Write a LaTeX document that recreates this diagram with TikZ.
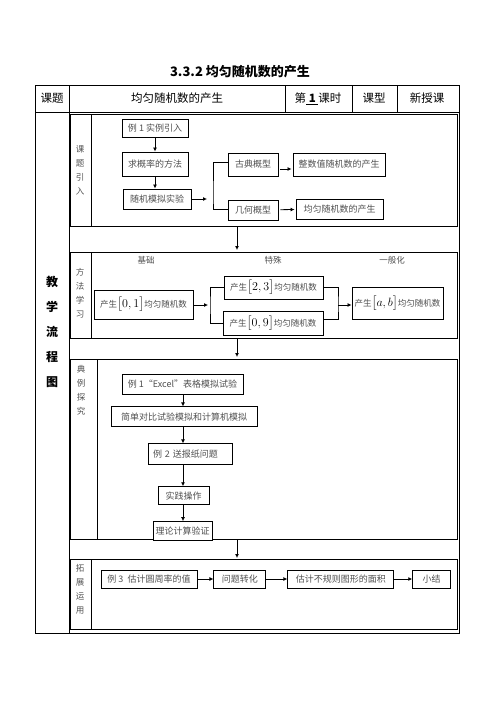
\documentclass[tikz,border=0pt]{standalone}
\usepackage{amsmath}
\usepackage{fontspec}
\usepackage{tikz}
\usetikzlibrary{positioning, arrows.meta, calc}
\newfontfamily\cjk{Noto Sans CJK SC}
\definecolor{txtgray}{RGB}{80,80,80}
\newcommand\itv[1]{\textcolor{black}{\fontsize{12}{13}\selectfont$\bigl[#1\bigr]$}}
\tikzset{
  cell/.style={inner sep=0pt, font=\cjk\fontsize{11.5}{13}\selectfont},
  sec/.style={rectangle, draw, line width=1pt, anchor=north west, inner sep=0pt},
  secname/.style={inner sep=0pt, align=center, text=txtgray, font=\cjk\fontsize{8.5}{14}\selectfont},
  box/.style={rectangle, draw, line width=0.9pt, fill=white, inner sep=1pt, align=center,
    text=txtgray, font=\cjk\fontsize{9}{10}\selectfont},
  ivbox/.style={box, font=\cjk\fontsize{8.5}{10}\selectfont},
  tag/.style={inner sep=0pt, text=txtgray, font=\cjk\fontsize{8.5}{10}\selectfont},
  flow/.style={-{Latex[length=4pt, width=4pt]}, line width=0.8pt},
  link/.style={line width=0.8pt},
  rule/.style={line width=0.6pt},
}
\begin{document}
\begin{tikzpicture}[x=1pt, y=-1pt]
  \useasboundingbox (0,0) rectangle (496,702);
  \node[cell, font=\cjk\bfseries\fontsize{13}{15}\selectfont] (title) at (240,72) {3.3.2 均匀随机数的产生};
  \draw[rule] (35,85) rectangle (459,633);
  \draw[rule] (35,112) -- (459,112);
  \foreach \x in {285,352,397} \draw[rule] (\x,85) -- (\x,112);
  \draw[line width=0.8pt] (69,85) -- (69,633);
  \node[cell] (h1) at (52,98.5) {课题};
  \node[cell] (h2) at (177,98.5) {均匀随机数的产生};
  \node[cell] (h3) at (318,98.5) {第\underline{\ {\bfseries 1}\ }课时};
  \node[cell] (h4) at (374,98.5) {课型};
  \node[cell] (h5) at (427,98.5) {新授课};
  \node[cell, align=center, font=\cjk\bfseries\fontsize{12}{25}\selectfont] (flowname) at (52,332) {教\\学\\流\\程\\图};
  \node[sec, minimum width=387, minimum height=112] (sec1) at (70,114) {};
  \node[sec, minimum width=387, minimum height=86] (sec2) at (70,252) {};
  \node[sec, minimum width=387, minimum height=180] (sec3) at (70,359) {};
  \node[sec, minimum width=387, minimum height=70] (sec4) at (70,559) {};
  \coordinate (dv) at (91,0); \coordinate (dw) at (97,0); \coordinate (m) at (237,0);
  \draw[link] (sec1.north -| dv) -- (sec1.south -| dv); \draw[link] (sec2.north -| dv) -- (sec2.south -| dv);
  \draw[link] (sec3.north -| dw) -- (sec3.south -| dw); \draw[link] (sec4.north -| dv) -- (sec4.south -| dv);
  \node[secname] (n1) at (80,170) {课\\题\\引\\入};
  \node[secname] (n2) at (80,293) {方\\法\\学\\习};
  \node[secname] (n3) at (81,390) {典\\例\\探\\究};
  \node[secname] (n4) at (80,589) {拓\\展\\运\\用};
  \draw[flow, shorten >=2pt] (sec1.south -| m) -- (sec2.north -| m);
  \draw[flow, shorten >=2pt] (sec2.south -| m) -- (sec3.north -| m);
  \draw[flow, shorten >=1pt] (sec3.south -| m) -- (sec4.north -| m);
  \node[box, minimum width=66, minimum height=18] (ex1) at (155,128) {例 1 实例引入};
  \node[box, minimum width=66, minimum height=24] (prob) at (155,164) {求概率的方法};
  \node[box, minimum width=68, minimum height=20] (sim) at (157,199) {随机模拟实验};
  \node[box, minimum width=50, minimum height=23] (classic) at (253,164.5) {古典概型};
  \node[box, minimum width=50, minimum height=20] (geo) at (253,210) {几何概型};
  \node[box, minimum width=92, minimum height=23] (intrand) at (339,164.5) {整数值随机数的产生};
  \node[box, minimum width=87, minimum height=20] (unirand) at (339.5,209) {均匀随机数的产生};
  \coordinate (fork1) at (207,199); \coordinate (bar1) at (213,199);
  \draw[flow] (ex1) -- (prob); \draw[flow] (prob.south) -- (prob.south |- sim.north);
  \draw[flow] (sim) -- (fork1);
  \draw[link] ([yshift=2.5pt]classic.west) -| (bar1) |- ([yshift=1pt]geo.west);
  \draw[flow, shorten <=2pt, shorten >=1pt] ([yshift=-4.5pt]classic.east) -- ([yshift=-4.5pt]intrand.west);
  \draw[flow, shorten <=2pt, shorten >=1pt] (geo) -- (unirand);
  \node[tag] (t1) at (146,260) {基础};
  \node[tag] (t2) at (273,260) {特殊};
  \node[tag] (t3) at (392,260) {一般化};
  \node[ivbox, minimum width=99, minimum height=29] (u01) at (143.5,304.5) {产生\itv{0,1}均匀随机数};
  \node[ivbox, minimum width=99, minimum height=23] (u23) at (273.5,287.5) {产生\itv{2,3}均匀随机数};
  \node[ivbox, minimum width=100, minimum height=24] (u09) at (273,323) {产生\itv{0,9}均匀随机数};
  \node[ivbox, minimum width=91, minimum height=32] (uab) at (397.5,303) {产生\itv{a,b}均匀随机数};
  \coordinate (fork2) at (208,305); \coordinate (bar2) at (210,305); \coordinate (bar3) at (338,305);
  \draw[flow] (u01.east |- fork2) -- (fork2);
  \draw[link] (u23.west) -| (bar2) |- (u09.west);
  \draw[link] (u23.east) -| (bar3) |- ([yshift=4pt]u09.east);
  \draw[flow] (bar3) -- (uab.west |- bar3);
  \node[box, minimum width=121, minimum height=20] (e1) at (182.5,384) {例 1“Excel”表格模拟试验};
  \node[box, minimum width=146, minimum height=20, below=12pt of e1, xshift=1.5pt] (cmp) {简单对比试验模拟和计算机模拟};
  \node[box, minimum width=84, minimum height=21, below=16pt of cmp, xshift=6pt, text width=74pt, align=left] (e2) {例 2 送报纸问题};
  \node[box, minimum width=51, minimum height=18, below=21pt of e2, xshift=-6.5pt] (prac) {实践操作};
  \node[box, minimum width=59, minimum height=19, below=16pt of prac, xshift=-1pt] (theo) {理论计算验证};
  \coordinate (ax) at (183,0);
  \foreach \a/\b in {e1/cmp, cmp/e2, e2/prac, prac/theo} \draw[flow] (\a.south -| ax) -- (\b.north -| ax);
  \node[box, minimum width=96, minimum height=18] (e3) at (149,579) {例 3\ \ 估计圆周率的值};
  \node[box, minimum width=52, minimum height=18, right=16pt of e3] (conv) {问题转化};
  \node[box, minimum width=106, minimum height=18, right=21pt of conv] (area) {估计不规则图形的面积};
  \node[box, minimum width=38, minimum height=18, right=18pt of area] (summ) {小结};
  \draw[flow] (e3) -- (conv); \draw[flow] (conv) -- (area); \draw[flow] (area) -- (summ);
\end{tikzpicture}
\end{document}
